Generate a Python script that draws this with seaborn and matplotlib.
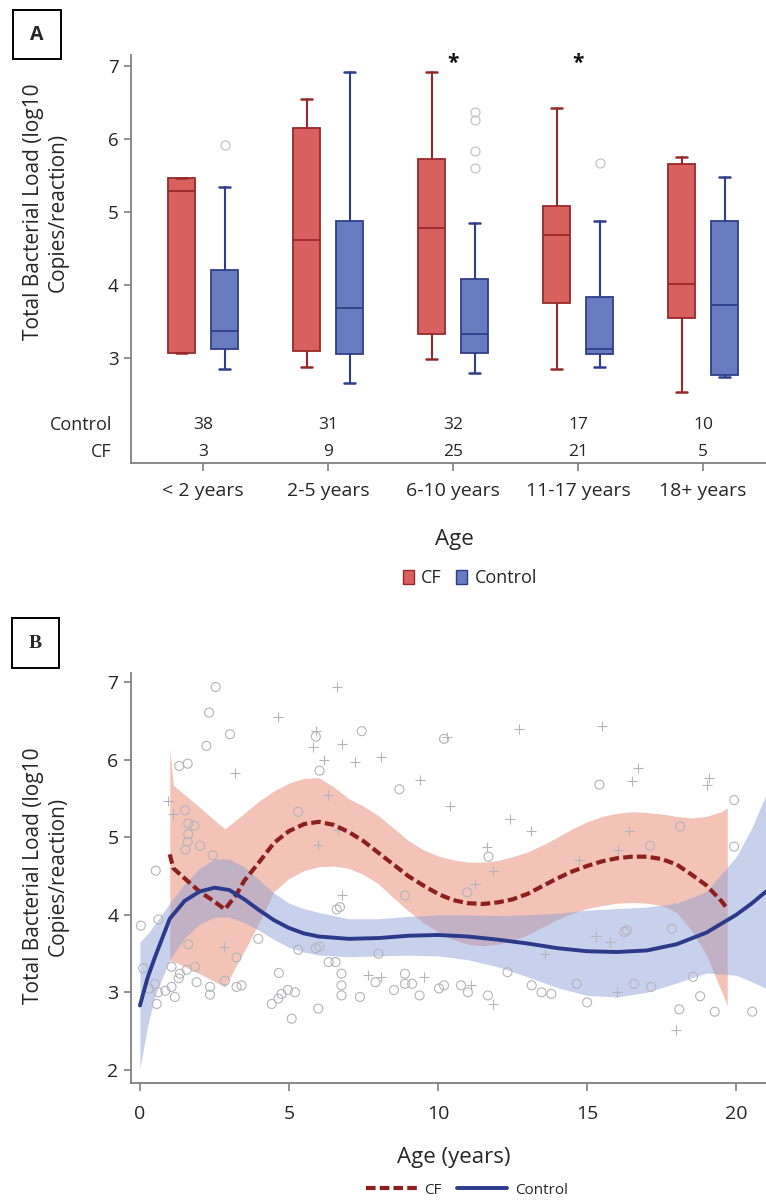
import numpy as np
import pandas as pd
import matplotlib
matplotlib.use('Agg')
import matplotlib.pyplot as plt
import matplotlib.transforms as mtransforms
from matplotlib.patches import Rectangle, Patch
from matplotlib.lines import Line2D
import seaborn as sns

# ---------------- Panel A data (box summaries) ----------------
age_groups = ['< 2 years', '2-5 years', '6-10 years', '11-17 years', '18+ years']
n_control = [38, 31, 32, 17, 10]
n_cf = [3, 9, 25, 21, 5]
cf_whislo = [3.07, 2.88, 2.98, 2.85, 2.53]
cf_q1 = [3.07, 3.09, 3.33, 3.75, 3.54]
cf_med = [5.28, 4.62, 4.78, 4.68, 4.01]
cf_q3 = [5.46, 6.15, 5.72, 5.08, 5.66]
cf_whishi = [5.46, 6.55, 6.92, 6.42, 5.75]
ctl_whislo = [2.85, 2.65, 2.79, 2.87, 2.74]
ctl_q1 = [3.12, 3.06, 3.07, 3.05, 2.77]
ctl_med = [3.37, 3.69, 3.33, 3.12, 3.73]
ctl_q3 = [4.21, 4.88, 4.08, 3.83, 4.88]
ctl_whishi = [5.34, 6.92, 4.85, 4.88, 5.48]
ctl_outliers = [[5.92], [], [6.37, 6.26, 5.84, 5.60], [5.67], []]
significant = [2, 3]

# ---------------- Panel B data ----------------
ctl_age = [2.54, 2.32, 3.02, 2.23, 1.32, 1.60, 5.31, 1.51, 1.62, 1.82, 1.62, 1.60, 1.53, 2.02, 2.44, 0.53,
           5.90, 6.02, 7.44, 10.2, 8.70, 11.69, 15.41, 19.93, 18.12, 17.11, 19.93, 10.98, 8.89, 17.84, 16.33,
           6.71, 6.60, 0.03, 0.62, 1.62, 3.24, 3.97, 4.66, 5.31, 5.90, 6.33,
           0.11, 0.50, 0.61, 0.56, 1.06, 1.17, 1.34, 1.57, 1.85, 1.90, 2.35, 2.35, 3.24, 3.41, 1.06,
           4.42, 4.64, 4.75, 4.96, 5.20, 5.09, 5.98,
           6.02, 6.56, 6.76, 6.76, 6.76, 7.38, 8.0, 7.9, 8.52, 8.89, 8.89, 9.13, 9.38, 10.03, 10.2, 10.77,
           11.0, 11.67, 12.33, 13.14, 13.47, 13.8, 14.65, 15.0, 16.58, 17.15, 18.09, 18.55, 18.79, 19.28,
           20.54, 16.25, 0.30, 0.85, 2.85, 1.3]
ctl_load = [6.94, 6.61, 6.33, 6.18, 5.92, 5.95, 5.33, 5.35, 5.18, 5.15, 5.04, 4.94, 4.84, 4.89, 4.77, 4.57,
            6.30, 5.86, 6.37, 6.27, 5.62, 4.75, 5.68, 5.48, 5.14, 4.89, 4.88, 4.29, 4.25, 3.82, 3.80,
            4.10, 4.07, 3.86, 3.94, 3.62, 3.45, 3.69, 3.25, 3.55, 3.57, 3.39,
            3.31, 3.11, 3.00, 2.85, 3.07, 2.94, 3.24, 3.29, 3.33, 3.13, 3.07, 2.97, 3.07, 3.09, 3.33,
            2.85, 2.92, 2.98, 3.03, 3.00, 2.66, 2.79,
            3.59, 3.39, 3.24, 3.09, 2.96, 2.94, 3.50, 3.13, 3.03, 3.24, 3.11, 3.11, 2.96, 3.05, 3.09, 3.09,
            3.00, 2.96, 3.26, 3.09, 3.00, 2.98, 3.11, 2.87, 3.11, 3.07, 2.78, 3.20, 2.95, 2.75,
            2.75, 3.78, 3.05, 3.02, 3.15, 3.18]
cf_age = [6.61, 4.62, 3.19, 5.9, 5.82, 6.18, 6.79, 0.93, 1.12, 6.3, 5.98, 6.63, 7.21, 8.1, 9.41, 10.4,
          12.73, 12.42, 13.11, 11.65, 11.85, 10.3, 15.51, 16.69, 16.5, 19.1, 19.02, 16.42, 16.05, 14.74,
          15.3, 15.76, 13.6, 7.66, 8.07, 9.54, 11.1, 11.83, 16.0, 17.97, 2.83, 11.24, 17.9, 6.77, 3.02]
cf_load = [6.94, 6.55, 5.83, 6.37, 6.16, 6.0, 6.21, 5.47, 5.30, 5.54, 4.90, 5.1, 5.97, 6.03, 5.74, 5.41,
           6.40, 5.23, 5.08, 4.87, 4.56, 6.3, 6.43, 5.89, 5.73, 5.76, 5.67, 5.08, 4.84, 4.71,
           3.73, 3.65, 3.5, 3.22, 3.2, 3.2, 3.1, 2.85, 3.0, 2.52, 3.58, 4.4, 4.1, 4.25, 4.62]

# fitted curves and confidence limits
cf_x = [1.0, 1.12, 1.5, 2.0, 2.5, 2.85, 3.25, 3.5, 4.0, 4.5, 5.0, 5.5, 6.0, 6.5, 7.0, 7.5, 8.0, 8.5, 9.0,
        9.5, 10.0, 10.5, 11.0, 11.5, 12.0, 12.5, 13.0, 13.5, 14.0, 14.5, 15.0, 15.5, 16.0, 16.5, 17.0,
        17.5, 18.0, 18.5, 19.0, 19.5, 19.7]
cf_fit = [4.78, 4.60, 4.47, 4.30, 4.17, 4.07, 4.27, 4.44, 4.68, 4.93, 5.08, 5.17, 5.20, 5.16, 5.07,
          4.95, 4.80, 4.65, 4.50, 4.38, 4.27, 4.19, 4.15, 4.14, 4.16, 4.20, 4.27, 4.37, 4.47, 4.56,
          4.63, 4.69, 4.73, 4.75, 4.75, 4.72, 4.65, 4.52, 4.38, 4.18, 4.08]
cf_hi = [6.15, 5.67, 5.55, 5.39, 5.22, 5.11, 5.23, 5.31, 5.47, 5.60, 5.70, 5.76, 5.77, 5.65, 5.50,
         5.40, 5.28, 5.12, 4.96, 4.84, 4.76, 4.71, 4.68, 4.68, 4.70, 4.75, 4.81, 4.90, 5.00, 5.11,
         5.20, 5.27, 5.31, 5.33, 5.32, 5.30, 5.27, 5.25, 5.27, 5.33, 5.38]
cf_lo = [3.41, 3.40, 3.33, 3.24, 3.14, 3.07, 3.36, 3.53, 3.90, 4.30, 4.47, 4.57, 4.62, 4.63, 4.60,
         4.52, 4.40, 4.22, 4.05, 3.90, 3.78, 3.68, 3.62, 3.60, 3.62, 3.67, 3.74, 3.84, 3.94, 4.02,
         4.08, 4.12, 4.15, 4.16, 4.15, 4.12, 4.03, 3.80, 3.48, 3.02, 2.83]
ctl_x = [0.0, 0.25, 0.5, 1.0, 1.5, 2.0, 2.5, 3.0, 3.5, 4.0, 4.5, 5.0, 5.5, 6.0, 7.0, 8.0, 9.0, 10.0,
         11.0, 12.0, 13.0, 14.0, 15.0, 16.0, 17.0, 18.0, 19.0, 20.0, 20.5, 21.0]
ctl_fit = [2.83, 3.18, 3.45, 3.95, 4.18, 4.30, 4.35, 4.32, 4.20, 4.06, 3.93, 3.83, 3.76, 3.72, 3.69,
           3.70, 3.73, 3.74, 3.72, 3.68, 3.63, 3.57, 3.53, 3.52, 3.54, 3.62, 3.77, 4.00, 4.14, 4.30]
ctl_lo = [2.02, 2.55, 2.95, 3.42, 3.70, 3.88, 3.97, 3.97, 3.90, 3.80, 3.68, 3.58, 3.52, 3.48, 3.46,
          3.47, 3.48, 3.47, 3.42, 3.33, 3.20, 3.06, 2.96, 2.94, 3.00, 3.12, 3.25, 3.22, 3.14, 3.05]
ctl_hi = [3.65, 3.75, 3.88, 4.15, 4.40, 4.60, 4.72, 4.72, 4.62, 4.45, 4.28, 4.15, 4.08, 4.03, 3.95,
          3.95, 3.98, 4.00, 4.00, 3.99, 4.00, 4.02, 4.06, 4.08, 4.10, 4.15, 4.30, 4.75, 5.10, 5.55]

# ---------------- style ----------------
sns.set_style('ticks')
plt.rcParams['font.family'] = ['Open Sans', 'DejaVu Sans']
NARROW = ['Liberation Sans Narrow', 'Open Sans', 'DejaVu Sans']

CF_FILL = '#D8605E'
CF_EDGE = '#98292A'
CTL_FILL = '#6A7CC0'
CTL_EDGE = '#2F3E88'
SPINE = '#808080'
PT_GREY = '#B4B4BC'

W, H = 766, 1202
fig = plt.figure(figsize=(W / 100, H / 100), dpi=100)

def fx(px):
    return px / W

def fy(py):
    return 1 - py / H

# ======================= Panel A =======================
axA = fig.add_axes([fx(131), fy(463), fx(766 - 131), (463 - 55) / H])
pos = np.arange(len(age_groups))
off, bw = 0.172, 0.21

def make_stats(lo, q1, med, q3, hi, fl=None):
    return [dict(whislo=lo[i], q1=q1[i], med=med[i], q3=q3[i], whishi=hi[i],
                 fliers=(fl[i] if fl is not None else []), label='') for i in range(len(lo))]

for stats, p, fc, ec in [
    (make_stats(cf_whislo, cf_q1, cf_med, cf_q3, cf_whishi), pos - off, CF_FILL, CF_EDGE),
    (make_stats(ctl_whislo, ctl_q1, ctl_med, ctl_q3, ctl_whishi, ctl_outliers), pos + off, CTL_FILL, CTL_EDGE),
]:
    axA.bxp(stats, positions=p, widths=bw, patch_artist=True, manage_ticks=False,
            capwidths=0.085,
            boxprops=dict(facecolor=fc, edgecolor=ec, linewidth=1.3),
            medianprops=dict(color=ec, linewidth=1.3),
            whiskerprops=dict(color=ec, linewidth=1.5),
            capprops=dict(color=ec, linewidth=1.8),
            flierprops=dict(marker='o', markerfacecolor='none', markeredgecolor='#C4C4C4',
                            markersize=6.5, markeredgewidth=0.9))

axA.set_xlim(-0.576, 4.504)
axA.set_ylim(1.56, 7.15)
axA.set_yticks([3, 4, 5, 6, 7])
axA.set_xticks(pos)
axA.set_xticklabels(age_groups, fontsize=14, family=NARROW)
for lab in axA.get_yticklabels():
    lab.set_family(NARROW)
    lab.set_fontsize(13.5)
axA.tick_params(axis='x', length=6, width=1.2, color=SPINE, pad=8)
axA.tick_params(axis='y', length=5, width=1.2, color=SPINE, pad=4)
sns.despine(ax=axA)
for s in ['left', 'bottom']:
    axA.spines[s].set_color(SPINE)
    axA.spines[s].set_linewidth(1.3)

# counts table inside the axes
tr = mtransforms.blended_transform_factory(axA.transAxes, axA.transData)
axA.text(-0.03, 2.08, 'Control', transform=tr, ha='right', va='center', fontsize=13, family=NARROW)
axA.text(-0.03, 1.71, 'CF', transform=tr, ha='right', va='center', fontsize=13, family=NARROW)
for i in range(len(age_groups)):
    axA.text(pos[i], 2.08, str(n_control[i]), ha='center', va='center', fontsize=12.5, family=NARROW)
    axA.text(pos[i], 1.71, str(n_cf[i]), ha='center', va='center', fontsize=12.5, family=NARROW)

for i in significant:
    axA.text(pos[i], 7.03, '*', ha='center', va='center', fontsize=15, fontweight='bold', color='#111111')

fig.text(fx(454), fy(540), 'Age', ha='center', va='center', fontsize=16)
fig.text(fx(46), fy(212), 'Total Bacterial Load (log10\nCopies/reaction)', rotation=90,
         ha='center', va='center', fontsize=15, linespacing=1.25, multialignment='center')

fig.legend(handles=[Patch(facecolor=CF_FILL, edgecolor=CF_EDGE, label='CF'),
                    Patch(facecolor=CTL_FILL, edgecolor=CTL_EDGE, label='Control')],
           loc='center', bbox_to_anchor=(fx(470), fy(578)), ncol=2, frameon=False,
           handlelength=0.6, handleheight=0.8, handletextpad=0.4,
           columnspacing=0.8, prop={'family': NARROW, 'size': 13})

# panel letters
fig.patches.append(Rectangle((fx(13), fy(59)), fx(48), 49 / H, transform=fig.transFigure,
                             fill=False, edgecolor='black', linewidth=1.4))
fig.text(fx(37), fy(34.5), 'A', ha='center', va='center', fontsize=14, fontweight='bold')
fig.patches.append(Rectangle((fx(12), fy(668)), fx(47), 50 / H, transform=fig.transFigure,
                             fill=False, edgecolor='black', linewidth=1.4))
fig.text(fx(35.5), fy(643), 'B', ha='center', va='center', fontsize=14, fontweight='bold',
         family=['Liberation Serif', 'DejaVu Serif'])

# ======================= Panel B =======================
axB = fig.add_axes([fx(131), fy(1083), fx(766 - 131), (1083 - 673) / H])
axB.fill_between(cf_x, cf_lo, cf_hi, color='#EC9C88', alpha=0.6, linewidth=0)
axB.fill_between(ctl_x, ctl_lo, ctl_hi, color='#8C9ED6', alpha=0.47, linewidth=0)

ctl_df = pd.DataFrame({'age': ctl_age, 'load': ctl_load})
cf_df = pd.DataFrame({'age': cf_age, 'load': cf_load})
sns.scatterplot(data=ctl_df, x='age', y='load', marker='o', s=42, color='none',
                edgecolor=PT_GREY, linewidth=0.8, ax=axB, zorder=3)
sns.scatterplot(data=cf_df, x='age', y='load', marker='+', s=45, color=PT_GREY,
                linewidth=0.8, ax=axB, zorder=3)

sns.lineplot(x=cf_x, y=cf_fit, color='#8E1F1F', linewidth=3.0, linestyle=(0, (2.3, 1.0)),
             sort=False, errorbar=None, ax=axB, zorder=4)
sns.lineplot(x=ctl_x, y=ctl_fit, color='#2B3A8A', linewidth=2.8, sort=False, errorbar=None,
             ax=axB, zorder=4)

axB.set_xlim(-0.30, 21.0)
axB.set_ylim(1.83, 7.12)
axB.set_xticks([0, 5, 10, 15, 20])
axB.set_yticks([2, 3, 4, 5, 6, 7])
axB.set_xlabel('')
axB.set_ylabel('')
for lab in axB.get_xticklabels() + axB.get_yticklabels():
    lab.set_family(NARROW)
    lab.set_fontsize(14)
axB.tick_params(axis='x', length=6, width=1.2, color=SPINE, pad=10)
axB.tick_params(axis='y', length=5, width=1.2, color=SPINE, pad=4)
sns.despine(ax=axB)
for s in ['left', 'bottom']:
    axB.spines[s].set_color(SPINE)
    axB.spines[s].set_linewidth(1.3)

fig.text(fx(454), fy(1157), 'Age (years)', ha='center', va='center', fontsize=16)
fig.text(fx(46), fy(876), 'Total Bacterial Load (log10\nCopies/reaction)', rotation=90,
         ha='center', va='center', fontsize=15, linespacing=1.25, multialignment='center')

fig.legend(handles=[Line2D([], [], color='#8E1F1F', lw=3.0, linestyle=(0, (2.3, 1.0)), label='CF'),
                    Line2D([], [], color='#2B3A8A', lw=2.8, label='Control')],
           loc='center', bbox_to_anchor=(fx(467), fy(1190)), ncol=2, frameon=False,
           handlelength=3.3, handletextpad=0.5, columnspacing=1.0,
           prop={'family': NARROW, 'size': 11})

fig.savefig('out.png', dpi=100)
